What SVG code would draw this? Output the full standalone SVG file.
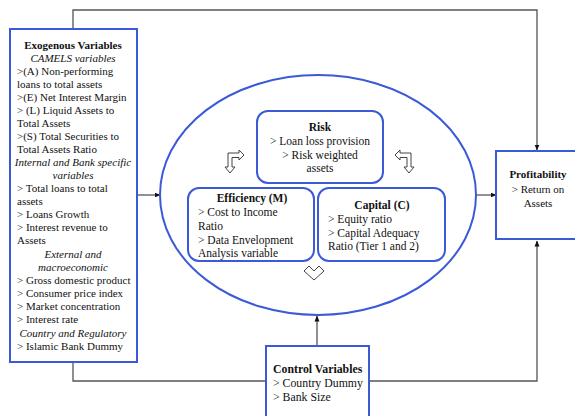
<svg xmlns="http://www.w3.org/2000/svg" width="575" height="416" viewBox="0 0 575 416">
<style>
.box{fill:#fff;stroke:#3a5ad8;stroke-width:2}
.conn{fill:none;stroke:#555;stroke-width:1.3}
.blk{fill:#fff;stroke:#444;stroke-width:1}
text{font-family:'Liberation Serif','Times New Roman',serif;font-size:11px;fill:#111}
.m{font-size:11.5px}
.l{font-size:11.8px}
.b{font-weight:bold}
.i{font-style:italic}
.c{text-anchor:middle}
</style>
<defs>
<marker id="ah" markerWidth="6" markerHeight="6" refX="5.5" refY="3" orient="auto" markerUnits="userSpaceOnUse">
<path d="M0,0.5 L6,3 L0,5.5 Z" fill="#111"/>
</marker>
</defs>
<rect width="575" height="416" fill="#fff"/>

<g id="connectors">
<polyline class="conn" points="73,29 73,10 537,10 537,150" marker-end="url(#ah)"/>
<line class="conn" x1="137" y1="195" x2="160" y2="195" marker-end="url(#ah)"/>
<line class="conn" x1="476" y1="195" x2="496" y2="195" marker-end="url(#ah)"/>
<polyline class="conn" points="73,362 73,381 266,381"/>
<polyline class="conn" points="369,381 537,381 537,241" marker-end="url(#ah)"/>
<line class="conn" x1="317" y1="346" x2="317" y2="316" marker-end="url(#ah)"/>
</g>

<g id="exogenous">
<rect class="box" x="10" y="29" width="127" height="333"/>
<text class="b c" x="73" y="49">Exogenous Variables</text>
<text class="i c" x="73" y="62">CAMELS variables</text>
<text x="17" y="75">&gt;(A) Non-performing</text>
<text x="17" y="88">loans to total assets</text>
<text x="17" y="101">&gt;(E) Net Interest Margin</text>
<text x="17" y="114">&gt; (L) Liquid Assets to</text>
<text x="17" y="127">Total Assets</text>
<text x="17" y="140">&gt;(S) Total Securities to</text>
<text x="17" y="153">Total Assets Ratio</text>
<text class="i c" x="73" y="166">Internal and Bank specific</text>
<text class="i c" x="73" y="179">variables</text>
<text x="17" y="192">&gt; Total loans to total</text>
<text x="17" y="205">assets</text>
<text x="17" y="218">&gt; Loans Growth</text>
<text x="17" y="231">&gt; Interest revenue to</text>
<text x="17" y="244">Assets</text>
<text class="i c" x="73" y="258">External and</text>
<text class="i c" x="73" y="271">macroeconomic</text>
<text x="17" y="284">&gt; Gross domestic product</text>
<text x="17" y="297">&gt; Consumer price index</text>
<text x="17" y="310">&gt; Market concentration</text>
<text x="17" y="323">&gt; Interest rate</text>
<text class="i c" x="73" y="337">Country and Regulatory</text>
<text x="17" y="350">&gt; Islamic Bank Dummy</text>
</g>

<g id="ellipse">
<ellipse cx="318" cy="195" rx="158" ry="120" fill="none" stroke="#3a5ad8" stroke-width="2"/>
</g>

<g id="risk">
<rect class="box" x="257" y="111" width="126" height="72" rx="11"/>
<text class="m b c" x="320" y="131">Risk</text>
<text class="m c" x="320" y="145">&gt; Loan loss provision</text>
<text class="m c" x="320" y="159">&gt; Risk weighted</text>
<text class="m c" x="320" y="172">assets</text>
</g>

<g id="efficiency">
<rect class="box" x="188" y="188" width="126" height="73" rx="11"/>
<text class="m b c" x="252" y="202">Efficiency (M)</text>
<text class="m" x="198" y="216">&gt; Cost to Income</text>
<text class="m" x="198" y="230">Ratio</text>
<text class="m" x="198" y="244">&gt; Data Envelopment</text>
<text class="m" x="198" y="257">Analysis variable</text>
</g>

<g id="capital">
<rect class="box" x="318" y="188" width="127" height="73" rx="11"/>
<text class="m b c" x="382" y="209">Capital (C)</text>
<text class="m" x="328" y="223">&gt; Equity ratio</text>
<text class="m" x="328" y="237">&gt; Capital Adequacy</text>
<text class="m" x="328" y="250">Ratio (Tier 1 and 2)</text>
</g>

<g id="arrow-left">
<polygon class="blk" points="244,155 239,160 239,157.5 232,157.5 232,167 235,167 230,173 225,167 228,167 228,153 239,153 239,150"/>
</g>
<g id="arrow-right">
<polygon class="blk" points="395,155 400,150 400,153 411,153 411,167 414,167 409,173 404,167 407,167 407,157.5 400,157.5 400,160"/>
</g>
<g id="arrow-down">
<polygon class="blk" points="304,271 309,266 314,271 319,266 324,271 314,280"/>
</g>

<g id="profitability">
<rect class="box" x="496" y="151" width="90" height="88"/>
<text class="b c" x="538" y="178">Profitability</text>
<text class="c" x="538" y="193">&gt; Return on</text>
<text class="c" x="538" y="207">Assets</text>
</g>

<g id="control">
<rect class="box" x="266" y="346" width="103" height="80"/>
<text class="l b" x="273" y="373">Control Variables</text>
<text class="l" x="273" y="387">&gt; Country Dummy</text>
<text class="l" x="273" y="401">&gt; Bank Size</text>
</g>
</svg>
